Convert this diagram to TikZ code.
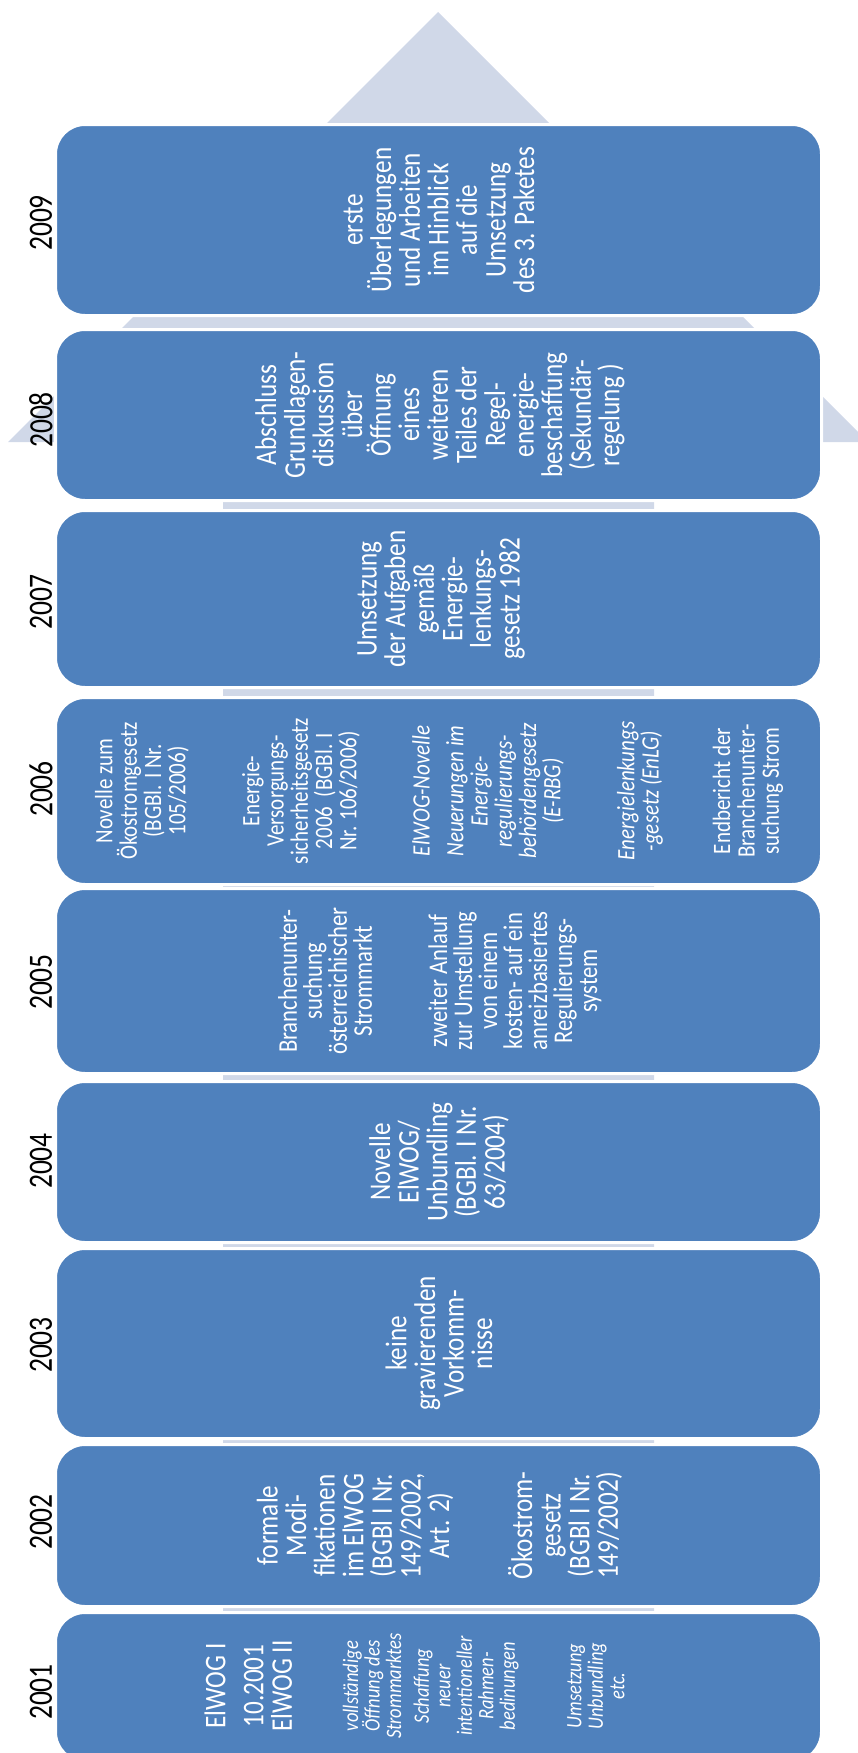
\documentclass[tikz,border=0pt]{standalone}
\usepackage{fontspec}
\newfontfamily\bodyfont[FakeStretch=0.84]{Carlito}
\newfontfamily\yearfont[FakeStretch=0.81]{Carlito}
\definecolor{boxblue}{HTML}{4F81BD}
\definecolor{arrowfill}{HTML}{D0D8E8}

\begin{document}
\begin{tikzpicture}[x=1pt,y=-1pt,
  yearbox/.style={rectangle, rounded corners=29.5pt, fill=boxblue, draw=white,
    line width=3pt, inner sep=0pt, outer sep=0pt, minimum width=766pt},
  yearlabel/.style={rotate=90, inner sep=0pt, text=black,
    font=\yearfont\fontsize{34}{34}\selectfont},
  entry/.style={rotate=90, inner sep=0pt, align=center, text=white},
  bigtext/.style={entry, font=\bodyfont\fontsize{30}{28.6}\selectfont},
  midtext/.style={entry, font=\bodyfont\fontsize{27}{25}\selectfont},
  smalltext/.style={entry, font=\bodyfont\fontsize{25}{24.3}\selectfont},
  smallit/.style={entry, font=\bodyfont\itshape\fontsize{25}{24.3}\selectfont},
  tinyit/.style={entry, font=\bodyfont\itshape\fontsize{22}{21.5}\selectfont},
]
\useasboundingbox (0,0) rectangle (858,1753);

% background arrow pointing upwards
\begin{scope}
  \clip (0,0) rectangle (858,1753);
  \fill[arrowfill] (223,1800) -- (223,442) -- (8,442) -- (438,12)
    -- (868,442) -- (654,442) -- (654,1800) -- cycle;
\end{scope}

% one box per year
\node[yearbox, minimum height=191pt] (b2009) at (438.5,220) {};
\node[yearbox, minimum height=171pt] (b2008) at (438.5,415) {};
\node[yearbox, minimum height=177pt] (b2007) at (438.5,599) {};
\node[yearbox, minimum height=187pt] (b2006) at (438.5,791) {};
\node[yearbox, minimum height=185pt] (b2005) at (438.5,981) {};
\node[yearbox, minimum height=161pt] (b2004) at (438.5,1162) {};
\node[yearbox, minimum height=190pt] (b2003) at (438.5,1343.5) {};
\node[yearbox, minimum height=162pt] (b2002) at (438.5,1525.5) {};
\node[yearbox, minimum height=149pt] (b2001) at (438.5,1687) {};

% year labels
\node[yearlabel] (y2009) at (41,223) {2009};
\node[yearlabel] (y2008) at (41,420) {2008};
\node[yearlabel] (y2007) at (41,602) {2007};
\node[yearlabel] (y2006) at (41,789) {2006};
\node[yearlabel] (y2005) at (41,982) {2005};
\node[yearlabel] (y2004) at (41,1161) {2004};
\node[yearlabel] (y2003) at (41,1345) {2003};
\node[yearlabel] (y2002) at (41,1522) {2002};
\node[yearlabel] (y2001) at (41,1692) {2001};

% 2009
\node[bigtext] (t2009) at (439,220) {erste\\Überlegungen\\und Arbeiten\\im Hinblick\\auf die\\Umsetzung\\des 3. Paketes};

% 2008
\node[bigtext] (t2008) at (440,415) {Abschluss\\Grundlagen-\\diskussion\\über\\Öffnung\\eines\\weiteren\\Teiles der\\Regel-\\energie-\\beschaffung\\(Sekundär-\\regelung )};

% 2007
\node[bigtext] (t2007) at (441,599) {Umsetzung\\der Aufgaben\\gemäß\\Energie-\\lenkungs-\\gesetz 1982};

% 2006
\node[smalltext] (t2006a) at (142,791) {Novelle zum\\Ökostromgesetz\\(BGBl. I Nr.\\105/2006)};
\node[smalltext] (t2006b) at (301,791) {Energie-\\Versorgungs-\\sicherheitsgesetz\\2006~~(BGBl. I\\Nr. 106/2006)};
\node[smallit] (t2006c) at (421,791) {ElWOG-Novelle};
\node[smallit] (t2006d) at (505,791) {Neuerungen im\\Energie-\\regulierungs-\\behördengesetz\\(E-RBG)};
\node[smallit] (t2006e) at (640,791) {Energielenkungs\\-gesetz (EnLG)};
\node[smalltext] (t2006f) at (748,791) {Endbericht der\\Branchenunter-\\suchung Strom};

% 2005
\node[midtext] (t2005a) at (325,981) {Branchenunter-\\suchung\\österreichischer\\Strommarkt};
\node[midtext] (t2005b) at (515,981) {zweiter Anlauf\\zur Umstellung\\von einem\\kosten- auf ein\\anreizbasiertes\\Regulierungs-\\system};

% 2004
\node[bigtext] (t2004) at (439,1162) {Novelle\\ElWOG/\\Unbundling\\(BGBl. I Nr.\\63/2004)};

% 2003
\node[bigtext] (t2003) at (439,1343.5) {keine\\gravierenden\\Vorkomm-\\nisse};

% 2002
\node[bigtext] (t2002a) at (355,1525.5) {formale\\Modi-\\fikationen\\im ElWOG\\(BGBl I Nr.\\149/2002,\\Art. 2)};
\node[bigtext] (t2002b) at (565,1525.5) {Ökostrom-\\gesetz\\(BGBl I Nr.\\149/2002)};

% 2001
\node[bigtext] (t2001a) at (215,1686) {ElWOG I};
\node[bigtext] (t2001b) at (268,1686) {10.2001\\ElWOG II};
\node[tinyit] (t2001c) at (372,1686) {vollständige\\Öffnung des\\Strommarktes};
\node[tinyit] (t2001d) at (466,1686) {Schaffung\\neuer\\intentioneller\\Rahmen-\\bedinungen};
\node[tinyit] (t2001e) at (596,1686) {Umsetzung\\Unbundling\\etc.};
\end{tikzpicture}
\end{document}
